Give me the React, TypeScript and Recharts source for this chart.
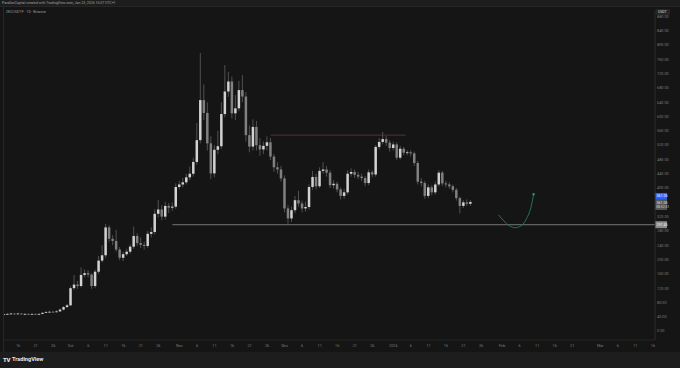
import React from 'react';
import { ComposedChart, Bar, Line, XAxis, YAxis, ReferenceLine } from 'recharts';

// ZECUSDT.P daily candles, Sep 12 2025 (day 0) .. Jan 23 2026 (day 133)
const firstOpen = 46;
const closes = [
  47, 48, 49, 48, 49, 48, 48, 47, 48, 47,
  48, 51, 53, 54, 53, 55, 60, 67, 72, 120,
  130, 126, 157, 162, 158, 126, 166, 197, 212, 290,
  258, 252, 228, 205, 215, 222, 236, 266, 246, 241,
  238, 272, 277, 328, 340, 320, 350, 345, 348, 403,
  410, 416, 430, 440, 473, 534, 646, 610, 525, 441,
  507, 517, 607, 670, 698, 609, 623, 674, 656, 548,
  516, 571, 520, 508, 518, 528, 488, 458, 452, 427,
  343, 315, 338, 366, 357, 343, 347, 403, 431, 405,
  448, 452, 443, 408, 412, 396, 378, 388, 440, 445,
  437, 432, 428, 414, 444, 438, 515, 529, 537, 527,
  512, 522, 485, 510, 499, 500, 497, 470, 418, 414,
  378, 402, 388, 410, 443, 413, 410, 405, 395, 372,
  350, 360, 356, 361.05,
];
const highs = [
  49, 50, 51, 50, 51, 50, 50, 49, 50, 49,
  50, 53, 56, 57, 57, 58, 63, 70, 76, 125,
  157, 140, 178, 172, 170, 162, 172, 210, 240, 300,
  296, 268, 283, 235, 222, 230, 242, 292, 274, 262,
  250, 280, 290, 340, 367, 352, 362, 358, 360, 413,
  420, 428, 440, 460, 485, 582, 778, 690, 640, 545,
  520, 560, 640, 744, 725, 712, 660, 700, 716, 668,
  575, 592, 588, 540, 530, 545, 540, 495, 472, 462,
  435, 352, 348, 378, 392, 365, 362, 410, 448, 440,
  458, 472, 462, 450, 422, 418, 402, 398, 450, 455,
  452, 445, 440, 434, 452, 450, 520, 540, 557, 545,
  534, 530, 528, 518, 515, 506, 506, 502, 476, 428,
  420, 410, 408, 418, 450, 448, 420, 416, 410, 400,
  376, 366, 368, 366,
];
const lows = [
  45, 46, 47, 46, 47, 46, 46, 45, 46, 45,
  46, 47, 50, 52, 51, 52, 54, 58, 65, 70,
  115, 118, 122, 150, 150, 118, 120, 160, 192, 205,
  250, 240, 222, 198, 196, 210, 216, 230, 238, 232,
  228, 232, 262, 270, 318, 310, 312, 330, 336, 342,
  396, 402, 410, 422, 432, 465, 525, 590, 505, 425,
  430, 495, 510, 598, 655, 595, 590, 615, 640, 530,
  500, 505, 505, 490, 495, 505, 478, 445, 440, 418,
  332, 300, 305, 330, 348, 332, 334, 340, 395, 396,
  400, 440, 432, 400, 398, 388, 368, 370, 382, 432,
  428, 425, 420, 405, 408, 430, 432, 508, 522, 518,
  502, 505, 478, 480, 492, 492, 488, 462, 410, 405,
  370, 372, 380, 382, 404, 406, 402, 398, 388, 365,
  329, 344, 350, 350,
];

const tickDays = [
  4, 9, 14, 19, 24, 29, 34, 39, 44, 50, 55, 60, 65, 70, 75, 80, 85, 90,
  95, 100, 105, 111, 116, 121, 126, 131, 136, 142, 147, 152, 157, 162,
  170, 175, 180, 185,
];
const tickLabels = [
  '16', '21', '26', 'Oct', '6', '11', '16', '21', '26', 'Nov', '6', '11',
  '16', '21', '26', 'Dec', '6', '11', '16', '21', '26', '2026', '6', '11',
  '16', '21', '26', 'Feb', '6', '11', '16', '21', 'Mar', '6', '11', '16',
];
const priceTicks = [
  0, 40, 80, 120, 160, 200, 240, 280, 320, 400, 440, 480, 520, 560, 600,
  640, 680, 720, 760, 800, 840, 880,
];

// hand-drawn projection curve
const curveDays = [141, 142.5, 144, 145.7, 147.5, 149, 150.2, 151];
const curveValues = [325, 308, 295, 289, 295, 315, 345, 383];

const supportLevel = 297.45;
const supportFrom = 48;
const resistanceLevel = 548;
const resistanceFrom = 76;
const resistanceTo = 114.5;
const lastPrice = 361.05;
const countdown = '08:52:51';

const xMin = -0.3;
const xMax = 185.6;

const candles = closes.map((close, i) => ({
  d: i,
  open: i === 0 ? firstOpen : closes[i - 1],
  close,
  high: highs[i],
  low: lows[i],
}));
const curve = curveDays.map((d, i) => ({ d, v: curveValues[i] }));

const UP = '#d2d2d2';
const DOWN = '#808080';
const WICK = '#5f5f5f';
const FONT = 'Roboto, "DejaVu Sans", sans-serif';

const Candle = (props: any) => {
  const { x, y, width, height, payload } = props;
  if (!payload || payload.high == null) return <g />;
  const { open, close, high, low } = payload;
  const k = high > low ? height / (high - low) : 0;
  const yOf = (v: number) => y + (high - v) * k;
  const up = close >= open;
  const top = yOf(Math.max(open, close));
  const bot = yOf(Math.min(open, close));
  const cx = x + width / 2;
  return (
    <g>
      <line x1={cx} x2={cx} y1={y} y2={y + height} stroke={WICK} strokeWidth={0.8} />
      <rect x={x} y={top} width={width} height={Math.max(0.8, bot - top)} fill={up ? UP : DOWN} />
    </g>
  );
};

const LastPriceBadge = (props: any) => {
  const vb = props.viewBox || {};
  const left = vb.x + vb.width;
  const y = vb.y;
  return (
    <g style={{ fontFamily: FONT }}>
      <rect x={left} y={y - 9} width={12} height={6} fill="#2962ff" />
      <text x={left + 1.5} y={y - 4.7} fontSize={3.6} fill="#ffffff">{lastPrice.toFixed(2)}</text>
      <rect x={left} y={y - 3} width={12} height={11} fill="#555555" />
      <text x={left + 1.5} y={y + 1.8} fontSize={3.6} fill="#e6e6e6">{lastPrice.toFixed(2)}</text>
      <text x={left + 1.2} y={y + 6.2} fontSize={3.4} fill="#d0d0d0">{countdown}</text>
    </g>
  );
};

const SupportBadge = (props: any) => {
  const vb = props.viewBox || {};
  const left = vb.x + vb.width;
  const y = vb.y;
  return (
    <g style={{ fontFamily: FONT }}>
      <rect x={left} y={y - 3.5} width={12} height={7} fill="#8a8a8a" />
      <text x={left + 1.5} y={y + 1.3} fontSize={3.6} fill="#f2f2f2">{supportLevel.toFixed(2)}</text>
    </g>
  );
};

const CurveDot = (props: any) => {
  const { cx, cy, index } = props;
  if (index !== curve.length - 1) return <g key={`cd-${index}`} />;
  return <circle key={`cd-${index}`} cx={cx} cy={cy} r={1.2} fill="#2f8f73" />;
};

export default function App() {
  return (
    <div
      style={{
        position: 'fixed',
        top: 0,
        left: 0,
        width: 680,
        height: 368,
        background: '#1d1d1d',
        overflow: 'hidden',
        fontFamily: FONT,
      }}
    >
      <div style={{ position: 'absolute', top: 0, left: 0, width: 680, height: 352, background: '#151515' }}>
        <ComposedChart
          width={680}
          height={352}
          data={candles}
          margin={{ top: 10, right: 0, left: 3, bottom: 0 }}
        >
          <XAxis
            dataKey="d"
            type="number"
            domain={[xMin, xMax]}
            allowDataOverflow
            ticks={tickDays}
            interval={0}
            tickFormatter={(v: number) => tickLabels[tickDays.indexOf(v)] ?? ''}
            tick={{ fill: '#7c7c7c', fontSize: 3.8, fontFamily: FONT }}
            tickLine={false}
            tickSize={2}
            tickMargin={2}
            axisLine={{ stroke: '#262626' }}
            height={12}
          />
          <YAxis
            orientation="right"
            type="number"
            domain={[-25, 898]}
            allowDataOverflow
            ticks={priceTicks}
            interval={0}
            tickFormatter={(v: number) => v.toFixed(2)}
            tick={{ fill: '#7c7c7c', fontSize: 3.8, fontFamily: FONT }}
            tickLine={false}
            tickSize={2}
            tickMargin={0}
            axisLine={{ stroke: '#2c2c2c' }}
            width={25}
          />
          <ReferenceLine
            segment={[{ x: resistanceFrom, y: resistanceLevel }, { x: resistanceTo, y: resistanceLevel }]}
            stroke="#6b3a3a"
            strokeWidth={0.8}
          />
          <ReferenceLine
            segment={[{ x: supportFrom, y: supportLevel }, { x: xMax, y: supportLevel }]}
            stroke="#8f8f8f"
            strokeWidth={0.8}
          />
          <Bar
            dataKey={(r: any) => [r.low, r.high]}
            barSize={2.5}
            shape={<Candle />}
            isAnimationActive={false}
          />
          <Line
            data={curve}
            dataKey="v"
            type="monotone"
            stroke="#1f7560"
            strokeWidth={1}
            dot={<CurveDot />}
            activeDot={false}
            isAnimationActive={false}
          />
          <ReferenceLine y={supportLevel} strokeOpacity={0} label={<SupportBadge />} />
          <ReferenceLine y={lastPrice} strokeOpacity={0} label={<LastPriceBadge />} />
        </ComposedChart>
      </div>

      {/* header strip */}
      <div
        style={{
          position: 'absolute',
          top: 0,
          left: 0,
          width: 680,
          height: 7,
          background: '#1d1d1d',
          borderBottom: '1px solid #262626',
          boxSizing: 'border-box',
        }}
      >
        <span style={{ position: 'absolute', left: 2, top: 1.6, fontSize: 3.5, color: '#a0a0a0', whiteSpace: 'nowrap', lineHeight: 1 }}>
          ParallaxCapital created with TradingView.com, Jan 23, 2026 16:07 UTC+1
        </span>
      </div>
      <div style={{ position: 'absolute', left: 2.5, top: 7, width: 1, height: 345, background: '#262626' }} />
      <span style={{ position: 'absolute', left: 6, top: 10.5, fontSize: 3.5, color: '#9a9a9a', whiteSpace: 'nowrap', lineHeight: 1 }}>
        ZECUSDT.P · 1D · Binance
      </span>
      <div
        style={{
          position: 'absolute',
          left: 656,
          top: 9,
          width: 14,
          height: 6,
          background: '#262626',
          borderRadius: 1,
          fontSize: 3.5,
          color: '#d8d8d8',
          lineHeight: '6px',
          paddingLeft: 2,
          boxSizing: 'border-box',
        }}
      >
        USDT
      </div>

      {/* footer with logo */}
      <div style={{ position: 'absolute', top: 352, left: 0, width: 680, height: 16, background: '#1d1d1d' }}>
        <span style={{ position: 'absolute', left: 3, top: 4.5, fontSize: 6, fontWeight: 800, color: '#e8e8e8', lineHeight: 1, letterSpacing: -0.4 }}>
          TV
        </span>
        <span style={{ position: 'absolute', left: 12, top: 4.5, fontSize: 5.6, fontWeight: 700, color: '#e8e8e8', lineHeight: 1, whiteSpace: 'nowrap' }}>
          TradingView
        </span>
      </div>
    </div>
  );
}
